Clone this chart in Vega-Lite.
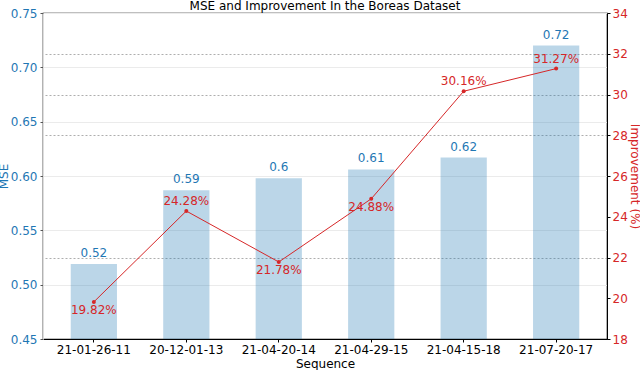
{
  "$schema": "https://vega.github.io/schema/vega-lite/v6.json",
  "autosize": "none",
  "width": 564,
  "height": 326,
  "padding": {"left": 43, "top": 13, "right": 33, "bottom": 31},
  "background": "white",
  "config": {
    "font": "DejaVu Sans",
    "view": {"stroke": "black", "strokeWidth": 1.2},
    "axis": {"labelFont": "DejaVu Sans", "titleFont": "DejaVu Sans", "labelFontSize": 12, "titleFontSize": 12, "titleFontWeight": "normal"}
  },
  "title": {"text": "MSE and Improvement In the Boreas Dataset", "fontSize": 12, "fontWeight": "normal", "font": "DejaVu Sans", "color": "black", "offset": 2, "dy": 8, "anchor": "middle", "frame": "group"},
  "data": {"values": [
    {"seq": "21-01-26-11", "mse": 0.519, "imp": 19.82, "impLabel": "19.82%", "pos": "below"},
    {"seq": "20-12-01-13", "mse": 0.587, "imp": 24.28, "impLabel": "24.28%", "pos": "above"},
    {"seq": "21-04-20-14", "mse": 0.598, "imp": 21.78, "impLabel": "21.78%", "pos": "below"},
    {"seq": "21-04-29-15", "mse": 0.606, "imp": 24.88, "impLabel": "24.88%", "pos": "below"},
    {"seq": "21-04-15-18", "mse": 0.617, "imp": 30.16, "impLabel": "30.16%", "pos": "above"},
    {"seq": "21-07-20-17", "mse": 0.720, "imp": 31.27, "impLabel": "31.27%", "pos": "above"}
  ]},
  "encoding": {
    "x": {"field": "seq", "type": "nominal", "sort": null,
      "scale": {"paddingInner": 0.5, "paddingOuter": 0.3},
      "axis": {"title": "Sequence", "labelAngle": 0, "labelColor": "black", "titleColor": "black", "domainColor": "black", "tickColor": "black", "tickSize": 3, "labelPadding": 2, "titlePadding": 3, "grid": false}}
  },
  "layer": [
    {
      "encoding": {
        "y": {"field": "mse", "type": "quantitative",
          "scale": {"domain": [0.45, 0.75], "zero": false, "nice": false},
          "axis": {"title": "MSE", "orient": "left", "values": [0.45, 0.5, 0.55, 0.6, 0.65, 0.7, 0.75], "format": ".2f", "labelColor": "#1f77b4", "titleColor": "#1f77b4", "domainColor": "#dddddd", "tickColor": "#555555", "tickSize": 3, "labelPadding": 3, "titlePadding": 0, "grid": true, "gridColor": "#ebebeb", "gridWidth": 1}}
      },
      "layer": [
        {"mark": {"type": "bar", "color": "#1f77b4", "opacity": 0.3, "clip": true}, "encoding": {"y2": {"datum": 0.45}}},
        {"mark": {"type": "text", "color": "#1f77b4", "fontSize": 12, "baseline": "bottom", "dy": -4}, "encoding": {"text": {"field": "mse", "type": "quantitative", "format": ".2~f"}}}
      ]
    },
    {
      "encoding": {
        "y": {"field": "imp", "type": "quantitative",
          "scale": {"domain": [18, 34], "zero": false, "nice": false},
          "axis": {"title": "Improvement (%)", "orient": "right", "values": [18, 20, 22, 24, 26, 28, 30, 32, 34], "labelColor": "#d62728", "titleColor": "#d62728", "domainColor": "black", "tickColor": "black", "tickSize": 3, "labelPadding": 2, "titlePadding": 0, "grid": true, "gridColor": "#999999", "gridDash": [2, 2], "gridWidth": 0.8,
            "gridOpacity": {"condition": {"test": "datum.value == 22 || (datum.value >= 28 && datum.value <= 32)", "value": 1}, "value": 0}}}
      },
      "layer": [
        {"mark": {"type": "line", "color": "#d62728", "strokeWidth": 1}},
        {"mark": {"type": "point", "filled": true, "color": "#d62728", "size": 16, "opacity": 1}},
        {"transform": [{"filter": "datum.pos === 'above'"}], "mark": {"type": "text", "color": "#d62728", "fontSize": 12, "baseline": "bottom", "dy": -3}, "encoding": {"text": {"field": "impLabel", "type": "nominal"}}},
        {"transform": [{"filter": "datum.pos === 'below'"}], "mark": {"type": "text", "color": "#d62728", "fontSize": 12, "baseline": "top", "dy": 3}, "encoding": {"text": {"field": "impLabel", "type": "nominal"}}}
      ]
    }
  ],
  "resolve": {"scale": {"y": "independent"}}
}
